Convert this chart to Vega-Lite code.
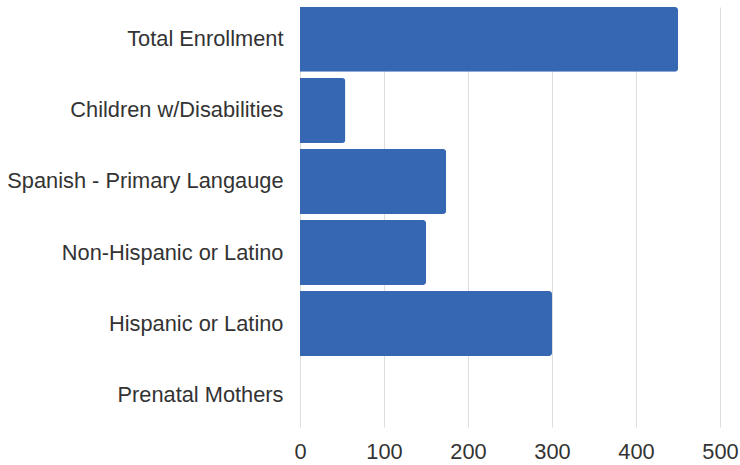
{
  "$schema": "https://vega.github.io/schema/vega-lite/v6.json",
  "autosize": {"type": "none"},
  "width": 420,
  "height": 420,
  "padding": {"left": 300, "top": 7, "right": 20, "bottom": 38},
  "background": "white",
  "config": {"view": {"stroke": null}, "font": "Liberation Sans"},
  "data": {
    "values": [
      {"category": "Total Enrollment", "value": 450},
      {"category": "Children w/Disabilities", "value": 54},
      {"category": "Spanish - Primary Langauge", "value": 174},
      {"category": "Non-Hispanic or Latino", "value": 150},
      {"category": "Hispanic or Latino", "value": 300},
      {"category": "Prenatal Mothers", "value": 0}
    ]
  },
  "mark": {"type": "bar", "color": "#3567b2", "cornerRadiusEnd": 3},
  "encoding": {
    "y": {
      "field": "category",
      "type": "nominal",
      "sort": null,
      "title": null,
      "scale": {"paddingInner": 0.087, "paddingOuter": 0, "align": 0},
      "axis": {
        "domain": false,
        "ticks": false,
        "labelFontSize": 21.8,
        "labelColor": "#333333",
        "labelPadding": 17,
        "labelFont": "Liberation Sans",
        "labelLimit": 400
      }
    },
    "x": {
      "field": "value",
      "type": "quantitative",
      "title": null,
      "scale": {"domain": [0, 500], "nice": false},
      "axis": {
        "values": [0, 100, 200, 300, 400, 500],
        "domain": false,
        "ticks": false,
        "grid": true,
        "gridColor": "#dddddd",
        "labelFlush": false,
        "labelOverlap": false,
        "labelFontSize": 21.8,
        "labelColor": "#333333",
        "labelPadding": 14,
        "labelFont": "Liberation Sans"
      }
    }
  }
}
